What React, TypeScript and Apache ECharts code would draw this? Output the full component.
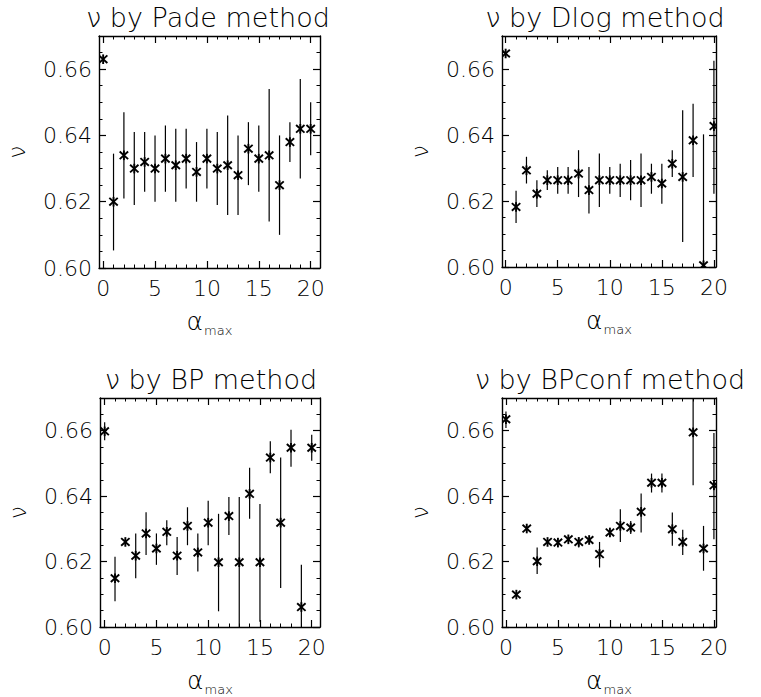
import React, { useEffect, useRef } from 'react';
import * as echarts from 'echarts';

// ---------- data ----------
const alphaMax = [0, 1, 2, 3, 4, 5, 6, 7, 8, 9, 10, 11, 12, 13, 14, 15, 16, 17, 18, 19, 20];

const padeNu = [0.663, 0.620, 0.634, 0.630, 0.632, 0.630, 0.633, 0.631, 0.633, 0.629, 0.633, 0.630, 0.631, 0.628, 0.636, 0.633, 0.634, 0.625, 0.638, 0.642, 0.642];
const padeHi = [0.663, 0.6345, 0.647, 0.641, 0.641, 0.640, 0.643, 0.642, 0.642, 0.638, 0.642, 0.641, 0.646, 0.640, 0.644, 0.643, 0.654, 0.640, 0.644, 0.657, 0.650];
const padeLo = [0.663, 0.6053, 0.621, 0.619, 0.623, 0.620, 0.623, 0.620, 0.624, 0.620, 0.624, 0.619, 0.616, 0.616, 0.625, 0.623, 0.614, 0.610, 0.632, 0.627, 0.634];

const dlogNu = [0.6647, 0.6182, 0.6293, 0.6222, 0.6263, 0.6263, 0.6263, 0.6283, 0.6233, 0.6263, 0.6263, 0.6263, 0.6263, 0.6263, 0.6273, 0.6253, 0.6313, 0.6273, 0.6384, 0.6005, 0.6427];
const dlogHi = [0.6647, 0.6231, 0.6334, 0.6263, 0.6293, 0.6303, 0.6303, 0.6354, 0.6303, 0.6344, 0.6303, 0.6313, 0.6324, 0.6344, 0.6313, 0.6313, 0.6354, 0.6475, 0.6495, 0.6402, 0.6625];
const dlogLo = [0.6647, 0.6133, 0.6253, 0.6182, 0.6233, 0.6222, 0.6222, 0.6212, 0.6162, 0.6182, 0.6222, 0.6212, 0.6202, 0.6182, 0.6222, 0.6192, 0.6273, 0.6076, 0.6273, 0.5900, 0.6222];

const bpNu = [0.6598, 0.6149, 0.6260, 0.6218, 0.6286, 0.6240, 0.6291, 0.6218, 0.6309, 0.6228, 0.6319, 0.6198, 0.6339, 0.6198, 0.6407, 0.6198, 0.6518, 0.6319, 0.6548, 0.6061, 0.6548];
const bpHi = [0.6626, 0.6215, 0.6270, 0.6286, 0.6351, 0.6286, 0.6326, 0.6275, 0.6366, 0.6286, 0.6386, 0.6346, 0.6397, 0.6397, 0.6487, 0.6376, 0.6568, 0.6518, 0.6603, 0.6190, 0.6588];
const bpLo = [0.6571, 0.6079, 0.6250, 0.6149, 0.6220, 0.6190, 0.6250, 0.6159, 0.6250, 0.6170, 0.6250, 0.6048, 0.6281, 0.5900, 0.6331, 0.6016, 0.6470, 0.6119, 0.6490, 0.5900, 0.6508];

const bpconfNu = [0.6635, 0.6099, 0.6301, 0.6201, 0.6260, 0.6258, 0.6268, 0.6260, 0.6266, 0.6223, 0.6289, 0.6309, 0.6304, 0.6352, 0.6441, 0.6441, 0.6299, 0.6260, 0.6595, 0.6240, 0.6433];
const bpconfHi = [0.6659, 0.6107, 0.6309, 0.6243, 0.6267, 0.6264, 0.6274, 0.6274, 0.6272, 0.6260, 0.6294, 0.6360, 0.6324, 0.6408, 0.6469, 0.6469, 0.6350, 0.6297, 0.6750, 0.6309, 0.6593];
const bpconfLo = [0.6608, 0.6091, 0.6293, 0.6162, 0.6253, 0.6252, 0.6262, 0.6243, 0.6260, 0.6182, 0.6284, 0.6260, 0.6284, 0.6289, 0.6411, 0.6411, 0.6248, 0.6220, 0.6433, 0.6172, 0.6268];

const xMajorTicks = [0, 5, 10, 15, 20];
const xMinorTicks = [0, 1, 2, 3, 4, 5, 6, 7, 8, 9, 10, 11, 12, 13, 14, 15, 16, 17, 18, 19, 20];
const yMajorTicks = [0.60, 0.62, 0.64, 0.66];
const yMinorTicks = [0.600, 0.605, 0.610, 0.615, 0.620, 0.625, 0.630, 0.635, 0.640, 0.645, 0.650, 0.655, 0.660, 0.665, 0.670];

const panelTitles = ['ν by Pade method', 'ν by Dlog method', 'ν by BP method', 'ν by BPconf method'];
const xAxisName = '{a|α}{b|max}';
const yAxisName = 'ν';

// ---------- layout ----------
const FONT = 'DejaVu Sans';
const panels = [
  { nu: padeNu, lo: padeLo, hi: padeHi, left: 99, top: 36, width: 221, height: 232, xMin: -0.4, xMax: 20.9, tx: 208, ty: 17 },
  { nu: dlogNu, lo: dlogLo, hi: dlogHi, left: 502, top: 36, width: 214, height: 231, xMin: -0.35, xMax: 20.2, tx: 605, ty: 17 },
  { nu: bpNu, lo: bpLo, hi: bpHi, left: 100, top: 398, width: 220, height: 231, xMin: -0.45, xMax: 20.8, tx: 211, ty: 379 },
  { nu: bpconfNu, lo: bpconfLo, hi: bpconfHi, left: 502, top: 398, width: 214, height: 230, xMin: -0.38, xMax: 20.2, tx: 610, ty: 379 },
];

const black = '#000';

function buildOption() {
  const grid: any[] = [];
  const xAxis: any[] = [];
  const yAxis: any[] = [];
  const series: any[] = [];
  const graphic: any[] = [];

  panels.forEach((p, i) => {
    grid.push({ left: p.left, top: p.top, width: p.width, height: p.height, containLabel: false });
    const xBase = { gridIndex: i, type: 'value', min: p.xMin, max: p.xMax, splitLine: { show: false } };
    const yBase = { gridIndex: i, type: 'value', min: 0.6, max: 0.67, splitLine: { show: false } };
    const lineOn = { show: true, onZero: false, lineStyle: { color: black, width: 1.4 } };
    const lineOff = { show: false, onZero: false };
    // bottom major
    xAxis.push({
      ...xBase, position: 'bottom', axisLine: lineOn,
      axisTick: { show: true, inside: true, length: 7, customValues: xMajorTicks, lineStyle: { color: black, width: 1.2 } },
      axisLabel: { show: true, customValues: xMajorTicks, fontSize: 22, fontFamily: FONT, fontWeight: 200, color: black, margin: 9 },
      name: xAxisName, nameLocation: 'middle', nameGap: 40,
      nameTextStyle: {
        rich: {
          a: { fontSize: 25, fontFamily: FONT, fontWeight: 200, color: black, verticalAlign: 'bottom', lineHeight: 26 },
          b: { fontSize: 13, fontFamily: FONT, fontWeight: 200, color: black, verticalAlign: 'bottom', padding: [0, 0, -3, 1] },
        },
      },
    });
    // bottom minor
    xAxis.push({
      ...xBase, position: 'bottom', axisLine: lineOff,
      axisTick: { show: true, inside: true, length: 3.5, customValues: xMinorTicks, lineStyle: { color: black, width: 1 } },
      axisLabel: { show: false },
    });
    // top major
    xAxis.push({
      ...xBase, position: 'top', axisLine: lineOn,
      axisTick: { show: true, inside: true, length: 7, customValues: xMajorTicks, lineStyle: { color: black, width: 1.2 } },
      axisLabel: { show: false },
    });
    // top minor
    xAxis.push({
      ...xBase, position: 'top', axisLine: lineOff,
      axisTick: { show: true, inside: true, length: 3.5, customValues: xMinorTicks, lineStyle: { color: black, width: 1 } },
      axisLabel: { show: false },
    });
    // left major
    yAxis.push({
      ...yBase, position: 'left', axisLine: lineOn,
      axisTick: { show: true, inside: true, length: 7, customValues: yMajorTicks, lineStyle: { color: black, width: 1.2 } },
      axisLabel: { show: true, customValues: yMajorTicks, fontSize: 22, fontFamily: FONT, fontWeight: 200, color: black, margin: 7, formatter: (v: number) => v.toFixed(2) },
      name: yAxisName, nameLocation: 'middle', nameRotate: 90, nameGap: 71,
      nameTextStyle: { fontSize: 23, fontFamily: FONT, fontWeight: 200, color: black },
    });
    // left minor
    yAxis.push({
      ...yBase, position: 'left', axisLine: lineOff,
      axisTick: { show: true, inside: true, length: 3.5, customValues: yMinorTicks, lineStyle: { color: black, width: 1 } },
      axisLabel: { show: false },
    });
    // right major
    yAxis.push({
      ...yBase, position: 'right', axisLine: lineOn,
      axisTick: { show: true, inside: true, length: 7, customValues: yMajorTicks, lineStyle: { color: black, width: 1.2 } },
      axisLabel: { show: false },
    });
    // right minor
    yAxis.push({
      ...yBase, position: 'right', axisLine: lineOff,
      axisTick: { show: true, inside: true, length: 3.5, customValues: yMinorTicks, lineStyle: { color: black, width: 1 } },
      axisLabel: { show: false },
    });

    const data = alphaMax.map((x, k) => [x, p.nu[k], p.lo[k], p.hi[k]]);
    series.push({
      type: 'custom',
      xAxisIndex: i * 4,
      yAxisIndex: i * 4,
      clip: true,
      data,
      renderItem: (params: any, api: any) => {
        const x = api.value(0);
        const v = api.value(1);
        const lo = api.value(2);
        const hi = api.value(3);
        const c = api.coord([x, v]);
        const cl = api.coord([x, lo]);
        const ch = api.coord([x, hi]);
        const s = 4.2;
        const t = 3.8;
        const st = { stroke: black, lineWidth: 1.9 };
        const children: any[] = [];
        if (hi > lo) {
          children.push({ type: 'line', shape: { x1: c[0], y1: ch[1], x2: c[0], y2: cl[1] }, style: { stroke: black, lineWidth: 1.2 } });
        }
        children.push({ type: 'line', shape: { x1: c[0] - s, y1: c[1] - t, x2: c[0] + s, y2: c[1] + t }, style: st });
        children.push({ type: 'line', shape: { x1: c[0] - s, y1: c[1] + t, x2: c[0] + s, y2: c[1] - t }, style: st });
        children.push({ type: 'line', shape: { x1: c[0], y1: c[1] - t - 1, x2: c[0], y2: c[1] + t + 1 }, style: st });
        return { type: 'group', children };
      },
    });

    graphic.push({
      type: 'text', x: p.tx, y: p.ty,
      style: { text: panelTitles[i], fontSize: 27, fontFamily: FONT, fontWeight: 200, fill: black, textAlign: 'center', textVerticalAlign: 'middle' },
    });
  });

  return { animation: false, backgroundColor: '#fff', grid, xAxis, yAxis, series, graphic };
}

export default function App() {
  const ref = useRef<HTMLDivElement>(null);
  useEffect(() => {
    if (!ref.current) return;
    const chart = echarts.init(ref.current, undefined, { renderer: 'svg' });
    chart.setOption(buildOption() as any);
    return () => chart.dispose();
  }, []);
  return <div ref={ref} style={{ position: 'fixed', left: 0, top: 0, width: 761, height: 697, background: '#fff' }} />;
}
